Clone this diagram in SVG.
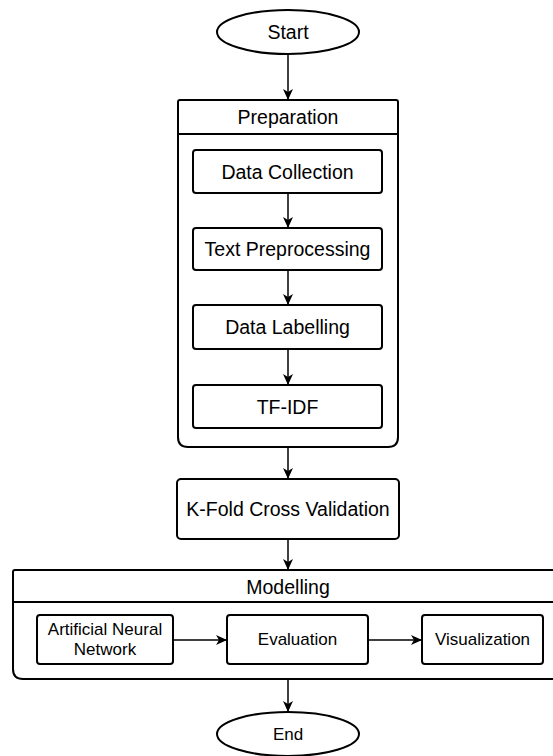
<svg xmlns="http://www.w3.org/2000/svg" width="553" height="756" viewBox="0 0 553 756">
<defs>
<marker id="arr" markerUnits="userSpaceOnUse" markerWidth="12" markerHeight="12" viewBox="0 0 12 12" refX="11" refY="6" orient="auto">
<path d="M0,1 L11,6 L0,11 L3,6 z" fill="#000"/>
</marker>
<style>
.box{fill:#fff;stroke:#000;stroke-width:2}
.cont{fill:#fff;stroke:#000;stroke-width:2}
.t{font-family:"Liberation Sans",Arial,sans-serif;font-size:19.5px;fill:#000;text-anchor:middle;dominant-baseline:central}
.s{font-size:17px}
.c{stroke:#000;stroke-width:1.5;fill:none;marker-end:url(#arr)}
</style>
</defs>
<rect width="553" height="756" fill="#fff"/>
<g id="start">
<ellipse class="box" cx="288" cy="32" rx="71" ry="22"/>
<text class="t" x="288" y="32">Start</text>
</g>
<g id="preparation">
<path class="cont" d="M180,100 H396 Q398,100 398,102 V437 Q398,447 388,447 H188 Q178,447 178,437 V102 Q178,100 180,100 Z"/>
<line x1="178" y1="134" x2="398" y2="134" stroke="#000" stroke-width="2"/>
<text class="t" x="288" y="117">Preparation</text>
</g>
<g id="data-collection">
<rect class="box" x="193" y="150" width="189" height="43" rx="3"/>
<text class="t" x="287.5" y="171.5">Data Collection</text>
</g>
<g id="text-preprocessing">
<rect class="box" x="193" y="228" width="189" height="42" rx="3"/>
<text class="t" x="287.5" y="249">Text Preprocessing</text>
</g>
<g id="data-labelling">
<rect class="box" x="193" y="305" width="189" height="44" rx="3"/>
<text class="t" x="287.5" y="327">Data Labelling</text>
</g>
<g id="tf-idf">
<rect class="box" x="193" y="385" width="189" height="43" rx="3"/>
<text class="t" x="287.5" y="406.5">TF-IDF</text>
</g>
<g id="kfold">
<rect class="box" x="177" y="479" width="222" height="60" rx="4"/>
<text class="t" x="288" y="509">K-Fold Cross Validation</text>
</g>
<g id="modelling">
<path class="cont" d="M15,570 H556 V679 H23 Q13,679 13,669 V572 Q13,570 15,570 Z"/>
<line x1="13" y1="602" x2="556" y2="602" stroke="#000" stroke-width="2"/>
<text class="t" x="288" y="587">Modelling</text>
</g>
<g id="ann">
<rect class="box" x="37" y="615" width="136" height="49" rx="3"/>
<text class="t s" x="105" y="629">Artificial Neural</text>
<text class="t s" x="105" y="649">Network</text>
</g>
<g id="evaluation">
<rect class="box" x="227" y="615" width="141" height="49" rx="3"/>
<text class="t s" x="297.5" y="639.5">Evaluation</text>
</g>
<g id="visualization">
<rect class="box" x="422" y="615" width="121" height="49" rx="3"/>
<text class="t s" x="482.5" y="639.5">Visualization</text>
</g>
<g id="end">
<ellipse class="box" cx="288" cy="734" rx="71" ry="22"/>
<text class="t s" x="288" y="734">End</text>
</g>
<g id="connectors">
<line class="c" x1="288" y1="54" x2="288" y2="100"/>
<line class="c" x1="288" y1="193" x2="288" y2="228"/>
<line class="c" x1="288" y1="270" x2="288" y2="305"/>
<line class="c" x1="288" y1="349" x2="288" y2="385"/>
<line class="c" x1="288" y1="447" x2="288" y2="479"/>
<line class="c" x1="288" y1="539" x2="288" y2="570"/>
<line class="c" x1="173" y1="640" x2="227" y2="640"/>
<line class="c" x1="368" y1="640" x2="422" y2="640"/>
<line class="c" x1="288" y1="679" x2="288" y2="712"/>
</g>
</svg>
